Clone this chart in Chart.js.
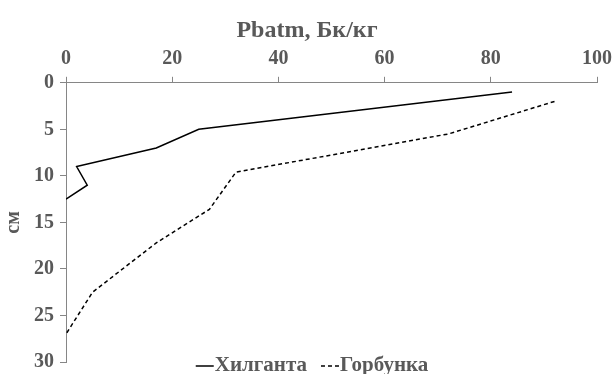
<!DOCTYPE html>
<html>
<head>
<meta charset="utf-8">
<script src="https://cdn.jsdelivr.net/npm/chart.js@4/dist/chart.umd.min.js"></script>
<style>
  body { margin: 0; background: #fff; }
  #wrap { width: 612px; height: 374px; position: relative; }
</style>
</head>
<body>
<div id="wrap"><canvas id="graph1"></canvas></div>
<script>
// Depth profiles of Pbatm (Bq/kg)
const hilDepth = [1, 5, 7, 9, 11, 12.5];
const hilPb = [84, 25, 17, 2, 4, 0];

const gorDepth = [2, 5.5, 9.6, 13.6, 17.2, 22.5, 27];
const gorPb = [92, 72, 32, 27, 17, 5, 0];

const seriesNames = ['Хилганта', 'Горбунка'];
const xTicks = [0, 20, 40, 60, 80, 100];
const yTicks = [0, 5, 10, 15, 20, 25, 30];

const gray = '#595959';
const fontFamily = '"Liberation Serif", "Times New Roman", serif';

function toPoints(xs, ys){
    return xs.map((x, i) => ({x: x, y: ys[i]}));
}

// legend drawn by hand so it can sit over the bottom of the plot like the original
const bottomLegend = {
    id: 'bottomLegend',
    afterDraw(chart){
        const ctx = chart.ctx;
        ctx.save();
        ctx.font = 'bold 21px ' + fontFamily;
        ctx.textBaseline = 'middle';
        const sample = 18, gap = 1, spacing = 14;
        const items = chart.data.datasets.map(ds => ({
            ds: ds,
            w: sample + gap + ctx.measureText(ds.label).width
        }));
        const total = items.reduce((s, it) => s + it.w, 0) + spacing * (items.length - 1);
        let x = chart.width / 2 + 6 - total / 2;
        const y = 366;
        items.forEach(it => {
            ctx.strokeStyle = it.ds.borderColor;
            ctx.lineWidth = it.ds.borderWidth;
            ctx.setLineDash(it.ds.borderDash || []);
            ctx.beginPath();
            ctx.moveTo(x, y);
            ctx.lineTo(x + sample, y);
            ctx.stroke();
            ctx.setLineDash([]);
            ctx.fillStyle = gray;
            ctx.fillText(it.ds.label, x + sample + gap, y);
            x += it.w + spacing;
        });
        ctx.restore();
    }
};

const ctx = document.getElementById('graph1');
new Chart(ctx, {
    type: 'line',
    data: {
        datasets: [
            {
                label: seriesNames[0],
                data: toPoints(hilPb, hilDepth),
                borderColor: '#000',
                borderWidth: 1.5,
                pointRadius: 0,
                fill: false,
                tension: 0
            },
            {
                label: seriesNames[1],
                data: toPoints(gorPb, gorDepth),
                borderColor: '#000',
                borderWidth: 1.5,
                borderDash: [4, 3],
                pointRadius: 0,
                fill: false,
                tension: 0
            }
        ]
    },
    options: {
        responsive: true,
        maintainAspectRatio: false,
        animation: false,
        layout: {
            padding: {left: 2, right: 0, top: 12, bottom: 12}
        },
        scales: {
            x: {
                type: 'linear',
                position: 'top',
                min: 0,
                max: 100,
                afterBuildTicks: axis => { axis.ticks = xTicks.map(v => ({value: v})); },
                afterFit: axis => { axis.paddingRight = 15; },
                grid: {drawOnChartArea: false, drawTicks: true, tickLength: 6, color: '#868686'},
                border: {color: '#868686', width: 1},
                ticks: {
                    color: gray,
                    padding: 8,
                    maxRotation: 0,
                    font: {family: fontFamily, size: 20, weight: 'bold', lineHeight: 1}
                }
            },
            y: {
                type: 'linear',
                reverse: true,
                min: 0,
                max: 30,
                afterBuildTicks: axis => { axis.ticks = yTicks.map(v => ({value: v})); },
                afterFit: axis => { axis.paddingBottom = 0; },
                grid: {drawOnChartArea: false, drawTicks: true, tickLength: 6, color: '#868686'},
                border: {color: '#868686', width: 1},
                title: {
                    display: true,
                    text: 'см',
                    color: gray,
                    padding: {top: 0, bottom: 2},
                    font: {family: fontFamily, size: 20, weight: 'bold'}
                },
                ticks: {
                    color: gray,
                    padding: 6,
                    font: {family: fontFamily, size: 20, weight: 'bold'}
                }
            }
        },
        plugins: {
            title: {
                display: true,
                text: 'Pbatm, Бк/кг',
                color: gray,
                font: {family: fontFamily, size: 24, weight: 'bold'},
                padding: {top: 4, bottom: -4}
            },
            legend: {display: false},
            tooltip: {enabled: false}
        }
    },
    plugins: [bottomLegend]
});
</script>
</body>
</html>
